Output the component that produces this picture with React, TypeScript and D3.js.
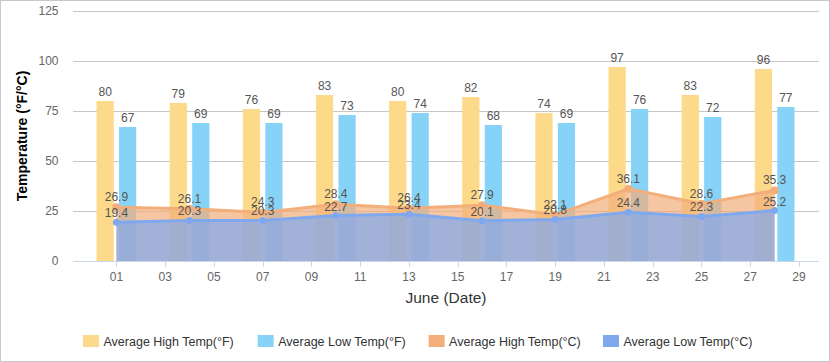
import * as d3 from "d3";

// June dates with readings
const days = [1, 4, 7, 10, 13, 16, 19, 22, 25, 28];
const highF = [80, 79, 76, 83, 80, 82, 74, 97, 83, 96];
const lowF = [67, 69, 69, 73, 74, 68, 69, 76, 72, 77];
const highC = [26.9, 26.1, 24.3, 28.4, 26.4, 27.9, 23.1, 36.1, 28.6, 35.3];
const lowC = [19.4, 20.3, 20.3, 22.7, 23.4, 20.1, 20.8, 24.4, 22.3, 25.2];
const yTicks = [0, 25, 50, 75, 100, 125];
const xTicks = [1, 3, 5, 7, 9, 11, 13, 15, 17, 19, 21, 23, 25, 27, 29];

const seriesNames = [
  "Average High Temp(°F)",
  "Average Low Temp(°F)",
  "Average High Temp(°C)",
  "Average Low Temp(°C)",
];
const colors = ["#fdd98a", "#87d3f7", "#f2ae7b", "#7fa8ef"];

const WIDTH = 830;
const HEIGHT = 362;
const FONT = "'Liberation Sans', Arial, sans-serif";

const App = () => {
  const x = d3.scaleLinear().domain([-0.78, 29.82]).range([73, 819]);
  const y = d3.scaleLinear().domain([0, 125]).range([261, 11]);

  // two bars side by side around each date
  const band = d3
    .scaleBand<string>()
    .domain(["hi", "lo"])
    .range([-19.85, 19.85])
    .paddingInner(0.235);

  const rowsHigh = days.map((d, i) => ({ d, v: highC[i] }));
  const rowsLow = days.map((d, i) => ({ d, v: lowC[i] }));

  const area = d3
    .area<{ d: number; v: number }>()
    .x((p) => x(p.d))
    .y0(y(0))
    .y1((p) => y(p.v));
  const line = d3
    .line<{ d: number; v: number }>()
    .x((p) => x(p.d))
    .y((p) => y(p.v));

  const legendX = [83, 257.7, 428.6, 603];

  return (
    <svg
      width={WIDTH}
      height={HEIGHT}
      style={{ position: "absolute", left: 0, top: 0, fontFamily: FONT }}
    >
      <rect x={0} y={0} width={WIDTH} height={HEIGHT} fill="#fff" />
      <rect
        x={0.5}
        y={0.5}
        width={WIDTH - 1}
        height={HEIGHT - 1}
        fill="none"
        stroke="#c8c8c8"
      />

      {/* grid + y labels */}
      {yTicks.map((t) => (
        <g key={t}>
          {t > 0 && (
            <line
              x1={73}
              x2={819}
              y1={Math.round(y(t)) + 0.5}
              y2={Math.round(y(t)) + 0.5}
              stroke="#c6c6c6"
            />
          )}
          <text
            x={58.5}
            y={y(t) + 4}
            textAnchor="end"
            fontSize={12}
            fill="#666"
          >
            {t}
          </text>
        </g>
      ))}

      {/* bars */}
      {days.map((d, i) => (
        <g key={"b" + d}>
          <rect
            x={x(d) + band("hi")!}
            y={y(highF[i])}
            width={band.bandwidth()}
            height={y(0) - y(highF[i])}
            fill={colors[0]}
          />
          <rect
            x={x(d) + band("lo")!}
            y={y(lowF[i])}
            width={band.bandwidth()}
            height={y(0) - y(lowF[i])}
            fill={colors[1]}
          />
        </g>
      ))}

      {/* areas */}
      <path d={area(rowsHigh) || ""} fill={colors[2]} fillOpacity={0.7} />
      <path d={line(rowsHigh) || ""} fill="none" stroke={colors[2]} strokeWidth={3} />
      {rowsHigh.map((p) => (
        <circle key={"hc" + p.d} cx={x(p.d)} cy={y(p.v)} r={4} fill={colors[2]} />
      ))}
      <path d={area(rowsLow) || ""} fill={colors[3]} fillOpacity={0.7} />
      <path d={line(rowsLow) || ""} fill="none" stroke={colors[3]} strokeWidth={3} />
      {rowsLow.map((p) => (
        <circle key={"lc" + p.d} cx={x(p.d)} cy={y(p.v)} r={3.5} fill={colors[3]} />
      ))}

      {/* x axis */}
      <line x1={73} x2={819} y1={261.5} y2={261.5} stroke="#ccd6eb" />
      {xTicks.map((t) => (
        <g key={"x" + t}>
          <line
            x1={Math.round(x(t)) + 0.5}
            x2={Math.round(x(t)) + 0.5}
            y1={261}
            y2={267}
            stroke="#ccd6eb"
          />
          <text x={x(t)} y={281} textAnchor="middle" fontSize={12} fill="#666">
            {d3.format("02d")(t)}
          </text>
        </g>
      ))}

      {/* data labels */}
      <g fontSize={12} fill="#555" textAnchor="middle">
        {days.map((d, i) => (
          <g key={"l" + d}>
            <text x={x(d) + band("hi")! + band.bandwidth() / 2} y={y(highF[i]) - 5}>
              {highF[i]}
            </text>
            <text x={x(d) + band("lo")! + band.bandwidth() / 2} y={y(lowF[i]) - 5}>
              {lowF[i]}
            </text>
            <text x={x(d)} y={y(highC[i]) - 6}>
              {highC[i]}
            </text>
            <text x={x(d)} y={y(lowC[i]) - 5}>
              {lowC[i]}
            </text>
          </g>
        ))}
      </g>

      {/* axis titles */}
      <text x={446} y={303} textAnchor="middle" fontSize={15.5} fill="#333">
        June (Date)
      </text>
      <text
        transform="translate(27,136) rotate(-90)"
        textAnchor="middle"
        fontSize={14}
        fontWeight="bold"
        fill="#000"
      >
        Temperature (°F/°C)
      </text>

      {/* legend */}
      {seriesNames.map((name, i) => (
        <g key={name} transform={`translate(${legendX[i]},335)`}>
          <rect width={16} height={12} fill={colors[i]} />
          <text x={20.5} y={11} fontSize={12.5} fill="#333">
            {name}
          </text>
        </g>
      ))}
    </svg>
  );
};

export default App;
